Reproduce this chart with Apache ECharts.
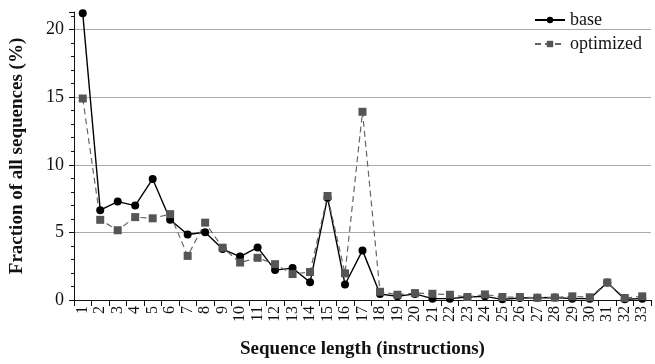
<!DOCTYPE html>
<html><head><meta charset="utf-8">
<script src="https://cdn.jsdelivr.net/npm/echarts@6/dist/echarts.min.js"></script>
<style>html,body{margin:0;padding:0;background:#fff}#c{width:655px;height:364px}</style>
</head><body><div id="c"></div>
<script>
var categories = ['1','2','3','4','5','6','7','8','9','10','11','12','13','14','15','16','17','18','19','20','21','22','23','24','25','26','27','28','29','30','31','32','33'];
var baseValues = [21.2,6.64,7.28,6.98,8.95,5.93,4.84,5.01,3.77,3.21,3.89,2.21,2.36,1.31,7.57,1.15,3.67,0.44,0.27,0.45,0.1,0.1,0.22,0.27,0.05,0.15,0.17,0.18,0.1,0.1,1.29,0.05,0.1];
var optimizedValues = [14.9,5.93,5.16,6.13,6.04,6.35,3.26,5.72,3.87,2.77,3.12,2.65,1.92,2.07,7.69,1.97,13.92,0.61,0.39,0.51,0.46,0.39,0.22,0.41,0.22,0.22,0.17,0.18,0.27,0.2,1.29,0.15,0.27];
var yTicks = [0,5,10,15,20];

var font = '"Liberation Serif", "Times New Roman", serif';
var chart = echarts.init(document.getElementById('c'));
chart.setOption({
  animation: false,
  backgroundColor: '#fff',
  textStyle: {fontFamily: font},
  grid: {left: 67, right: 4, top: 12, bottom: 61, containLabel: false},
  legend: {
    orient: 'vertical', right: 8, top: 6, itemGap: 6, itemWidth: 30, itemHeight: 8,
    textStyle: {fontFamily: font, fontSize: 18, color: '#111'},
    data: ['base', 'optimized']
  },
  xAxis: {
    type: 'category', data: categories, boundaryGap: true,
    name: 'Sequence length (instructions)', nameLocation: 'middle', nameGap: 40,
    nameTextStyle: {fontFamily: font, fontSize: 19, fontWeight: 'bold', color: '#111'},
    axisLine: {lineStyle: {color: '#111', width: 1}},
    axisTick: {show: true, alignWithLabel: false, length: 6, lineStyle: {color: '#111'}},
    axisLabel: {rotate: 90, interval: 0, fontFamily: font, fontSize: 16, color: '#111', margin: 6},
    splitLine: {show: false}
  },
  yAxis: {
    type: 'value', min: 0, max: 21.3, interval: 5,
    name: 'Fraction of all sequences (%)', nameLocation: 'middle', nameGap: 47,
    nameTextStyle: {fontFamily: font, fontSize: 19, fontWeight: 'bold', color: '#111'},
    axisLine: {show: true, lineStyle: {color: '#111', width: 1}},
    axisTick: {show: true, length: 5, lineStyle: {color: '#111'}},
    minorTick: {show: true, splitNumber: 5, length: 3, lineStyle: {color: '#111'}},
    axisLabel: {fontFamily: font, fontSize: 18, color: '#111', margin: 10, showMaxLabel: false,
      formatter: function (v) { return yTicks.indexOf(v) >= 0 ? String(v) : ''; }},
    splitLine: {show: true, lineStyle: {color: ['#aaa','#aaa','#aaa','#aaa','#aaa','rgba(0,0,0,0)'], width: 1.2}}
  },
  series: [
    {
      name: 'base', type: 'line', data: baseValues,
      symbol: 'circle', symbolSize: 8,
      itemStyle: {color: '#000'},
      lineStyle: {color: '#000', width: 1.4}
    },
    {
      name: 'optimized', type: 'line', data: optimizedValues,
      symbol: 'rect', symbolSize: 8,
      itemStyle: {color: '#555'},
      lineStyle: {color: '#666', width: 1.2, type: [6, 4]}
    }
  ]
});
</script></body></html>
